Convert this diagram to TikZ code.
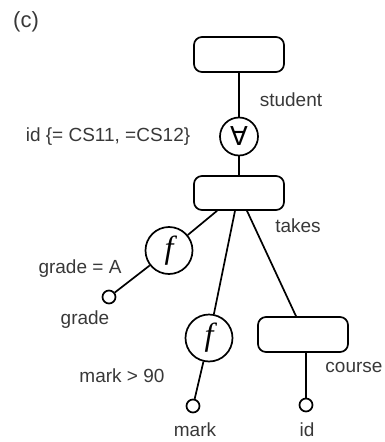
\documentclass[tikz,border=0pt]{standalone}
\usepackage{fontspec}
\setmainfont{Liberation Sans}
\newfontfamily\symfont{DejaVu Sans}
\newfontfamily\ffont{Liberation Serif}
\begin{document}
\begin{tikzpicture}[x=1pt,y=-1pt,
  line width=1.7pt,
  rbox/.style={draw, rounded corners=8pt, minimum width=90pt, minimum height=35pt, inner sep=0pt},
  fcirc/.style={draw, circle, minimum size=47pt, inner sep=0pt, font=\ffont\itshape\fontsize{32}{34}\selectfont},
  qcirc/.style={draw, circle, minimum size=38pt, inner sep=0pt, font=\symfont\fontsize{26}{28}\selectfont},
  leaf/.style={draw, circle, minimum size=13pt, inner sep=0pt},
  lbl/.style={text=black!78, font=\fontsize{19}{22}\selectfont, inner sep=0pt}]
\useasboundingbox (0,0) rectangle (384,442);
% nodes
\node[rbox] (top) at (239,54.5) {};
\node[qcirc] (all) at (239,136.5) {\raisebox{-1pt}{∀}};
\node[rbox, minimum height=34pt] (takes) at (239,193) {};
\node[fcirc] (f1) at (169,250.5) {\raisebox{-3pt}{f}};
\node[leaf] (g) at (109,297) {};
\node[fcirc] (f2) at (209,338) {\raisebox{-3pt}{f}};
\node[leaf] (m) at (193,406) {};
\node[rbox] (course) at (303,334.5) {};
\node[leaf] (cid) at (306,405) {};
% labels
\node[lbl, font=\fontsize{22}{24}\selectfont] (c) at (26,22) {(c)};
\node[lbl] (lstudent) at (291,100) {student};
\node[lbl] (lid) at (108,137) {id \{= CS11, =CS12\}};
\node[lbl] (ltakes) at (298,226) {takes};
\node[lbl] (lgradeA) at (80,269) {grade = A};
\node[lbl] (lgrade) at (85,320) {grade};
\node[lbl] (lmark90) at (122,376) {mark > 90};
\node[lbl] (lmark) at (195,430) {mark};
\node[lbl] (lcid) at (307,430) {id};
\node[lbl] (lcourse) at (354,367) {course};
% connectors
\draw (top.south) -- (all.north);
\draw (all.south) -- (takes.north);
\draw ([xshift=-22pt]takes.south) -- (f1);
\draw (f1) -- (g);
\draw ([xshift=-4pt]takes.south) -- (f2);
\draw (f2) -- (m);
\draw ([xshift=8pt]takes.south) -- ([xshift=-7pt]course.north);
\draw ([xshift=3pt]course.south) -- (cid);
\end{tikzpicture}
\end{document}
